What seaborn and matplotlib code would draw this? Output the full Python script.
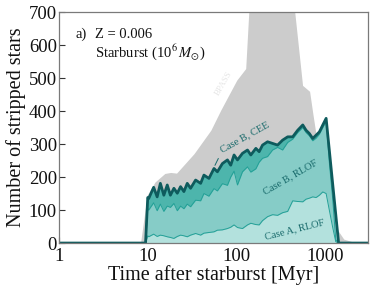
import numpy as np
import pandas as pd
import matplotlib
matplotlib.use("Agg")
import matplotlib.pyplot as plt
import seaborn as sns

# ---- data ----
t_bpass = [1, 8.0, 8.3, 9.8, 12, 15.5, 18, 21, 33, 51, 66, 100, 126, 143,
           410, 550, 660, 720, 900, 1100, 1400, 1600, 2000, 2500, 3000]
n_bpass = [0, 0, 5, 145, 185, 211, 214, 212, 271, 342, 403, 494, 529, 800,
           800, 478, 460, 390, 220, 90, 35, 12, 4, 2, 1]

t_model = [1, 9.4, 9.95, 10.2, 11.6, 12.7, 13.8, 15.1, 16.5, 17.9, 19.6, 21.4,
           23.3, 25.4, 27.7, 30.2, 34.4, 39.2, 42.7, 48.6, 55.4, 60.5, 68.9,
           78.5, 85.5, 93.2, 101.8, 115.9, 132, 143.9, 164, 178.6, 195, 222,
           253, 288, 328, 374, 426, 485, 553, 602, 656, 716, 781, 851, 929,
           1013, 1100, 1200, 1300, 1400, 3000]
n_total = [0, 0, 138, 135, 169, 140, 181, 145, 176, 145, 166, 151, 171, 156,
           181, 166, 191, 181, 206, 196, 226, 216, 241, 252, 236, 267, 252,
           272, 282, 267, 287, 277, 297, 307, 302, 297, 312, 322, 322, 342,
           358, 342, 332, 317, 327, 337, 358, 378, 282, 180, 87, 0, 0]
n_rlof = [0, 0, 105, 100, 122, 98, 118, 96, 112, 108, 120, 98, 112, 104,
          118, 110, 130, 128, 150, 142, 165, 158, 180, 175, 200, 218, 176,
          216, 231, 215, 225, 245, 257, 262, 282, 290, 282, 305, 315, 335,
          350, 335, 325, 310, 318, 330, 350, 368, 245, 135, 10, 0, 0]
n_caseA = [0, 0, 22, 19, 27, 20, 24, 22, 19, 17, 14, 20, 24, 22, 19, 24, 29,
           24, 30, 32, 34, 39, 40, 44, 48, 55, 47, 44, 55, 60, 56, 55, 68, 80,
           86, 84, 92, 96, 128, 126, 125, 133, 136, 140, 138, 145, 155, 150,
           100, 48, 4, 0, 0]

x_ticks = [1, 10, 100, 1000]
x_tick_labels = ["1", "10", "100", "1000"]
y_ticks = [0, 100, 200, 300, 400, 500, 600, 700]

df = pd.DataFrame({"t": t_model, "total": n_total, "rlof": n_rlof, "caseA": n_caseA})
dfb = pd.DataFrame({"t": t_bpass, "n": n_bpass})

# ---- style ----
sns.set_theme(style="ticks")
plt.rcParams["font.family"] = ["Liberation Serif", "DejaVu Serif"]
plt.rcParams["mathtext.fontset"] = "stix"

fig = plt.figure(figsize=(3.74, 2.89), dpi=100)
ax = fig.add_axes([0.158, 0.159, 0.826, 0.799])

c_grey = "#cccccc"
c_total = "#a2ddd7"
c_rlof = "#86ccc7"
c_cee = "#4db5ac"
c_caseA = "#b3e1dd"
c_dark = "#0e5b5d"
c_line = "#23a097"

ax.fill_between(dfb["t"], 0, dfb["n"], color=c_grey, lw=0, zorder=1)
ax.fill_between(df["t"], 0, df["total"], color=c_total, lw=0, zorder=2)
ax.fill_between(df["t"], 0, df["rlof"], color=c_rlof, lw=0, zorder=3)
ax.fill_between(df["t"], df["rlof"], df["total"], where=df["t"] <= 1013,
                color=c_cee, lw=0, zorder=3, interpolate=True)
ax.fill_between(df["t"], 0, df["caseA"], color=c_caseA, lw=0, zorder=4)

sns.lineplot(data=df, x="t", y="caseA", ax=ax, color=c_line, lw=0.7,
             estimator=None, sort=False, zorder=5)
sns.lineplot(data=df, x="t", y="rlof", ax=ax, color=c_line, lw=0.7,
             estimator=None, sort=False, zorder=5)
sns.lineplot(data=df, x="t", y="total", ax=ax, color=c_dark, lw=2.0,
             estimator=None, sort=False, zorder=6)

ax.set_xscale("log")
ax.set_xlim(1, 3000)
ax.set_ylim(0, 700)
ax.set_xticks(x_ticks)
ax.set_xticklabels(x_tick_labels)
ax.xaxis.set_minor_locator(matplotlib.ticker.NullLocator())
ax.set_yticks(y_ticks)
ax.set_yticklabels([str(v) for v in y_ticks])

for s in ax.spines.values():
    s.set_color("#7a7a7a")
    s.set_linewidth(0.9)
    s.set_zorder(10)
ax.tick_params(axis="both", direction="in", length=4, width=0.8,
               color="#333333", labelsize=13.5, labelcolor="#111111")
ax.tick_params(axis="y", pad=1.5)
ax.tick_params(axis="x", pad=3.5)
ax.set_xlabel("Time after starburst [Myr]", fontsize=14.5, labelpad=0, color="#111111")
ax.set_ylabel("Number of stripped stars", fontsize=14.5, labelpad=2, color="#111111")

ax.text(0.052, 0.905, "a)", transform=ax.transAxes, fontsize=10.5,
        va="center", ha="left", color="#111111")
ax.text(0.117, 0.905, "Z = 0.006", transform=ax.transAxes, fontsize=10.5,
        va="center", ha="left", color="#111111")
ax.text(0.117, 0.828, r"Starburst (10$^6\,M_{\odot}$)", transform=ax.transAxes,
        fontsize=10.5, va="center", ha="left", color="#111111")

ax.text(0.534, 0.693, "BPASS", transform=ax.transAxes, fontsize=6.5,
        rotation=60, ha="center", va="center", color="#e6e6e6", zorder=7)
ax.text(0.602, 0.459, "Case B, CEE", transform=ax.transAxes, fontsize=7.5,
        rotation=29, ha="center", va="center", color="#17696a", zorder=7)
ax.text(0.748, 0.286, "Case B, RLOF", transform=ax.transAxes, fontsize=7.5,
        rotation=30, ha="center", va="center", color="#17696a", zorder=7)
ax.text(0.761, 0.06, "Case A, RLOF", transform=ax.transAxes, fontsize=7.5,
        rotation=14, ha="center", va="center", color="#17696a", zorder=7)
ax.annotate("", xy=(55, 228), xytext=(64, 264),
            arrowprops=dict(arrowstyle="-", color="#17696a", lw=0.7), zorder=7)

fig.savefig("out.png", dpi=100)
